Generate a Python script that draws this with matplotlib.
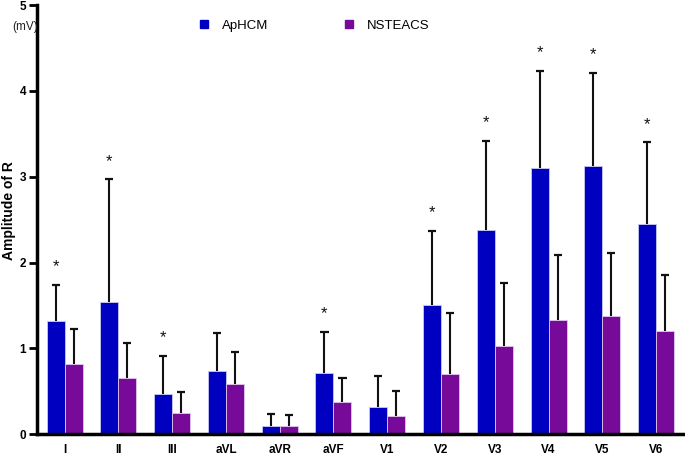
import matplotlib
matplotlib.use('Agg')
import matplotlib.pyplot as plt
from matplotlib.lines import Line2D
import numpy as np

plt.rcParams['font.family'] = ['Liberation Sans', 'DejaVu Sans']

leads = ['I', 'II', 'III', 'aVL', 'aVR', 'aVF', 'V1', 'V2', 'V3', 'V4', 'V5', 'V6']
aphcm_mean = [1.32, 1.54, 0.47, 0.73, 0.10, 0.71, 0.32, 1.50, 2.38, 3.10, 3.13, 2.45]
aphcm_top = [1.74, 2.97, 0.91, 1.18, 0.23, 1.19, 0.68, 2.37, 3.42, 4.23, 4.21, 3.40]
nsteacs_mean = [0.82, 0.66, 0.25, 0.59, 0.09, 0.37, 0.21, 0.70, 1.03, 1.33, 1.38, 1.20]
nsteacs_top = [1.22, 1.06, 0.49, 0.96, 0.22, 0.66, 0.50, 1.41, 1.76, 2.09, 2.11, 1.86]
significant = [True, True, True, False, False, True, False, True, True, True, True, True]

blue = '#0000c0'
purple = '#770a98'

x = np.arange(len(leads))
w = 0.335
cap = 0.075

fig = plt.figure(figsize=(6.85, 4.57), dpi=100)
ax = fig.add_axes([0.054, 0.05, 0.943, 0.939])

# error bars only go up, draw them behind the bars
for xs, m, t in [(x - w / 2, aphcm_mean, aphcm_top), (x + w / 2, nsteacs_mean, nsteacs_top)]:
    ax.vlines(xs, m, t, color='#111111', linewidth=1.5, zorder=1)
    ax.hlines(t, xs - cap, xs + cap, color='#111111', linewidth=1.6, zorder=1)

ax.bar(x - w / 2, aphcm_mean, w, color=blue, edgecolor='#c8c8f0', linewidth=0.6, zorder=2)
ax.bar(x + w / 2, nsteacs_mean, w, color=purple, edgecolor='#e0c8ec', linewidth=0.6, zorder=2)

for i, s in enumerate(significant):
    if s:
        ax.text(x[i] - w / 2, aphcm_top[i] + 0.21, '*', ha='center', va='center',
                fontsize=12, color='#111111')

ax.set_xlim(-0.515, 11.5)
ax.set_ylim(0, 5)
ax.set_xticks(x)
ax.set_xticklabels(leads, fontsize=8.5, fontweight='bold')
ax.set_yticks([0, 1, 2, 3, 4, 5])
ax.set_yticklabels(['0', '1', '2', '3', '4', '5'], fontsize=8.5, fontweight='bold')
ax.tick_params(axis='x', length=0, pad=7)
ax.tick_params(axis='y', length=6, width=2, pad=2)
for side in ['top', 'right']:
    ax.spines[side].set_visible(False)
for side in ['left', 'bottom']:
    ax.spines[side].set_linewidth(2.5)
fig.text(0.013, 0.54, 'Amplitude of R', rotation=90, fontsize=10, fontweight='bold',
         ha='center', va='center')
fig.text(0.0175, 0.942, '(mV)', fontsize=8.5, ha='left', va='center', color='#222222')

handles = [Line2D([], [], marker='s', linestyle='', color=blue, markersize=6),
           Line2D([], [], marker='s', linestyle='', color=purple, markersize=6)]
ax.legend(handles, ['ApHCM', 'NSTEACS'], ncol=2, frameon=False, fontsize=9.5,
          loc='center left', bbox_to_anchor=(0.225, 0.952), columnspacing=5.4,
          handletextpad=0.6, handlelength=1.5)

fig.savefig('out.png', dpi=100)
